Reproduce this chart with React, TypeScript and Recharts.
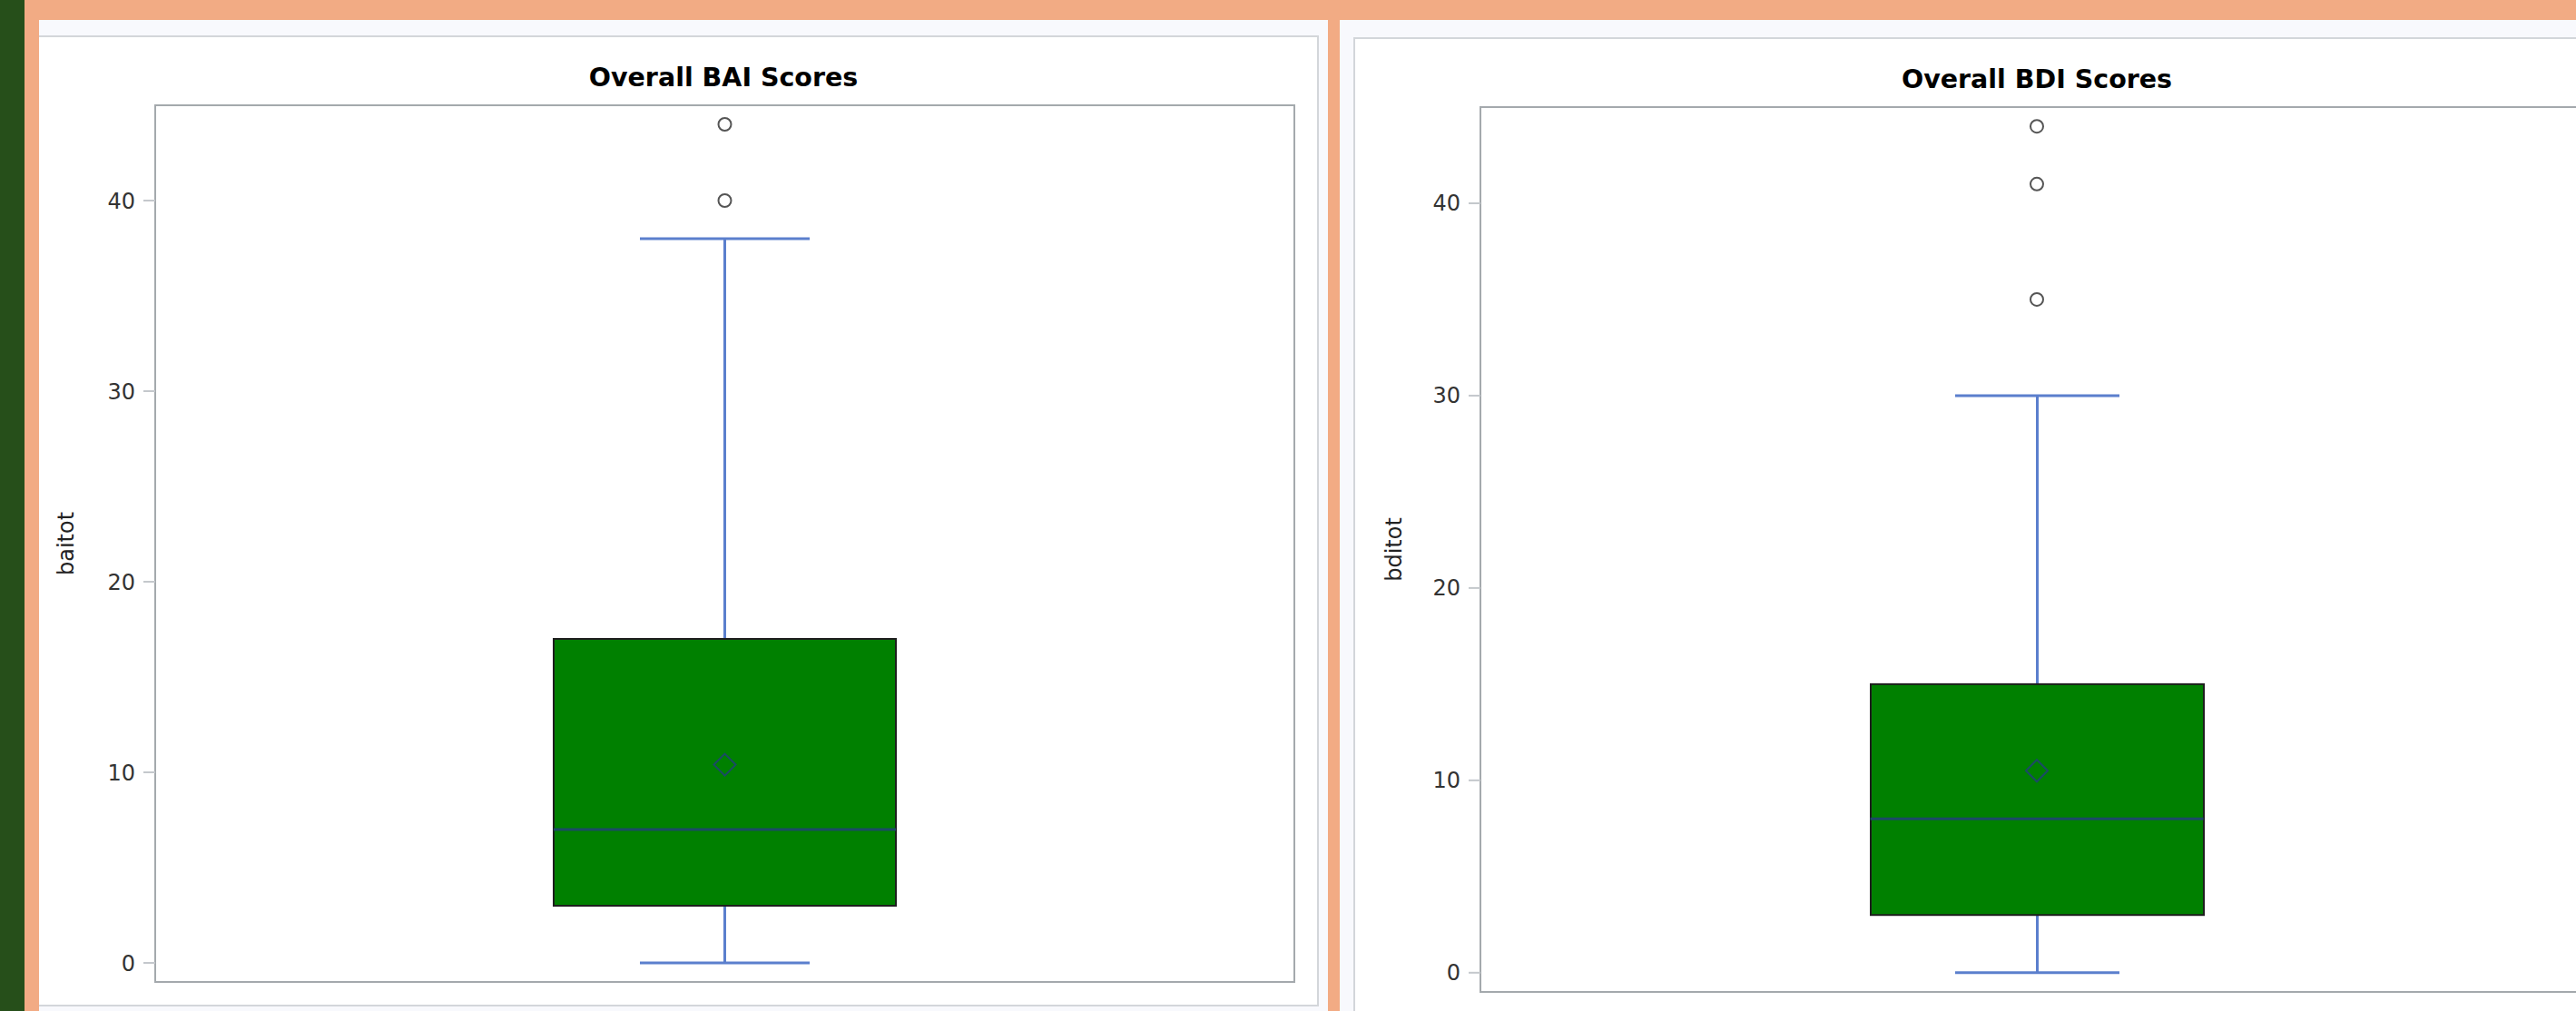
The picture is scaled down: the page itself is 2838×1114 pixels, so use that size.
import { Bar, ComposedChart, ReferenceArea, Scatter, XAxis, YAxis } from "recharts"

// five-number summaries per variable
const groups = ["baitot", "bditot"]
const titles = ["Overall BAI Scores", "Overall BDI Scores"]
const whiskerLow = [0, 0]
const lowerQuartile = [3, 3]
const medians = [7, 8]
const upperQuartile = [17, 15]
const whiskerHigh = [38, 30]
const means = [10.4, 10.5]
const baiOutliers = [40, 44]
const bdiOutliers = [35, 41, 44]
const yTicks = [0, 10, 20, 30, 40]

const FONT = "'DejaVu Sans', sans-serif"
const BOX_FILL = "#008000"
const WHISKER = "#5b7fcd"
const CENTER = "#1b4a66"
const FRAME = "#a4a9ad"
const SALMON = "#f2ab84"
const PANEL_BG = "#f8f9fd"
const CARD_BORDER = "#d3d6da"

const panels = [
  { left: 43, top: 40, width: 1408, height: 1066, axisWidth: 128, boxWidth: 377, capWidth: 187, labelDx: -35, titleX: 797, titleY: 95 },
  { left: 1492, top: 42, width: 1390, height: 1075, axisWidth: 139, boxWidth: 367, capWidth: 181, labelDx: -26, titleX: 2244, titleY: 97 },
]

const WhiskerShape = (props: any) => {
  const { x, y, width, height } = props
  const top = Math.min(y, y + height)
  const bottom = Math.max(y, y + height)
  const cx = x + width / 2
  return (
    <g stroke={WHISKER} strokeWidth={3}>
      <line x1={cx} x2={cx} y1={top} y2={bottom} />
      <line x1={x} x2={x + width} y1={top} y2={top} />
      <line x1={x} x2={x + width} y1={bottom} y2={bottom} />
    </g>
  )
}

const BoxShape = (props: any) => {
  const { x, y, width, height } = props
  return (
    <rect
      x={x}
      y={Math.min(y, y + height)}
      width={width}
      height={Math.abs(height)}
      fill={BOX_FILL}
      stroke="#1e1e1e"
      strokeWidth={2}
    />
  )
}

const medianShape = (half: number) => (props: any) => (
  <line x1={props.cx - half} x2={props.cx + half} y1={props.cy} y2={props.cy} stroke={CENTER} strokeWidth={3} />
)

const MeanShape = (props: any) => {
  const { cx, cy } = props
  const r = 12
  return (
    <polygon
      points={`${cx},${cy - r} ${cx + r},${cy} ${cx},${cy + r} ${cx - r},${cy}`}
      fill="none"
      stroke={CENTER}
      strokeWidth={2}
    />
  )
}

const OutlierShape = (props: any) => (
  <circle cx={props.cx} cy={props.cy} r={7} fill="#fff" stroke="#555" strokeWidth={2} />
)

function BoxPanel({ index, outliers }: { index: number; outliers: number[] }) {
  const p = panels[index]
  const group = groups[index]
  const data = [
    {
      group,
      whisker: [whiskerLow[index], whiskerHigh[index]],
      box: [lowerQuartile[index], upperQuartile[index]],
      median: medians[index],
      mean: means[index],
    },
  ]
  const outlierData = outliers.map((value) => ({ group, value }))

  return (
    <div style={{ position: "absolute", left: p.left, top: p.top }}>
      <ComposedChart
        width={p.width}
        height={p.height}
        data={data}
        margin={{ top: 76, right: 25, bottom: 24, left: 0 }}
      >
        <XAxis xAxisId="w" dataKey="group" type="category" hide />
        <XAxis xAxisId="b" dataKey="group" type="category" allowDuplicatedCategory={false} hide />
        <YAxis
          type="number"
          domain={[-1, 45]}
          ticks={yTicks}
          width={p.axisWidth}
          axisLine={false}
          tickSize={13}
          tickMargin={9}
          tickLine={{ stroke: "#c4c8cc", strokeWidth: 2 }}
          tick={{ fill: "#333", fontSize: 24, fontFamily: FONT }}
          label={{
            value: group,
            angle: -90,
            position: "center",
            dx: p.labelDx,
            fill: "#222",
            fontSize: 24,
            fontFamily: FONT,
          }}
        />
        <ReferenceArea xAxisId="b" y1={-1} y2={45} fill="none" stroke={FRAME} strokeWidth={2} ifOverflow="visible" />
        <Bar xAxisId="w" dataKey="whisker" barSize={p.capWidth} shape={WhiskerShape} isAnimationActive={false} />
        <Bar xAxisId="b" dataKey="box" barSize={p.boxWidth} shape={BoxShape} isAnimationActive={false} />
        <Scatter xAxisId="b" dataKey="median" shape={medianShape(p.boxWidth / 2)} isAnimationActive={false} />
        <Scatter xAxisId="b" dataKey="mean" shape={MeanShape} isAnimationActive={false} />
        <Scatter xAxisId="b" data={outlierData} dataKey="value" shape={OutlierShape} isAnimationActive={false} />
      </ComposedChart>
    </div>
  )
}

export default function App() {
  return (
    <div
      style={{
        position: "absolute",
        left: 0,
        top: 0,
        width: 2838,
        height: 1114,
        overflow: "hidden",
        background: SALMON,
      }}
    >
      <div style={{ position: "absolute", left: 0, top: 0, width: 27, height: 1114, background: "#264f1a" }} />
      <div style={{ position: "absolute", left: 43, top: 22, width: 1420, height: 1092, background: PANEL_BG }} />
      <div style={{ position: "absolute", left: 1476, top: 22, width: 1362, height: 1092, background: PANEL_BG }} />
      <div
        style={{
          position: "absolute",
          left: 43,
          top: 39,
          width: 1408,
          height: 1066,
          background: "#fff",
          borderTop: `2px solid ${CARD_BORDER}`,
          borderRight: `2px solid ${CARD_BORDER}`,
          borderBottom: `2px solid ${CARD_BORDER}`,
        }}
      />
      <div
        style={{
          position: "absolute",
          left: 1491,
          top: 41,
          width: 1400,
          height: 1100,
          background: "#fff",
          borderTop: `2px solid ${CARD_BORDER}`,
          borderLeft: `2px solid ${CARD_BORDER}`,
        }}
      />
      <BoxPanel index={0} outliers={baiOutliers} />
      <BoxPanel index={1} outliers={bdiOutliers} />
      <svg width={2838} height={1114} style={{ position: "absolute", left: 0, top: 0, pointerEvents: "none" }}>
        {panels.map((p, i) => (
          <text
            key={titles[i]}
            x={p.titleX}
            y={p.titleY}
            textAnchor="middle"
            fontFamily={FONT}
            fontWeight="bold"
            fontSize={28.5}
            fill="#000"
          >
            {titles[i]}
          </text>
        ))}
      </svg>
    </div>
  )
}
